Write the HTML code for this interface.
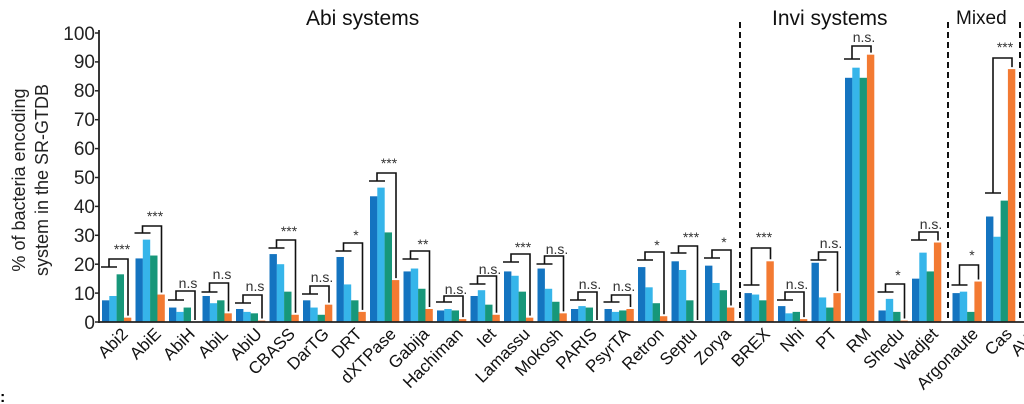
<!DOCTYPE html>
<html><head><meta charset="utf-8"><style>
html,body{margin:0;padding:0;background:#fff}
svg{display:block;font-family:"Liberation Sans",Arial,sans-serif}
</style></head><body>
<svg id="s" width="1024" height="404" viewBox="0 0 1024 404">
<g font-size="21" fill="#111">
<text x="306" y="25">Abi systems</text>
<text x="772" y="25">Invi systems</text>
<text x="956" y="24" font-size="19">Mixed</text>
</g>
<g font-size="18" fill="#222">
<text transform="translate(25,180) rotate(-90)" text-anchor="middle">% of bacteria encoding</text>
<text transform="translate(48,180) rotate(-90)" text-anchor="middle">system in the SR-GTDB</text>
</g>
<g font-size="19" fill="#222" text-anchor="end">
<text x="95" y="329">0</text><text x="95" y="300">10</text><text x="95" y="271">20</text><text x="95" y="242">30</text><text x="95" y="213">40</text><text x="95" y="184">50</text><text x="95" y="155">60</text><text x="95" y="126">70</text><text x="95" y="97">80</text><text x="95" y="68">90</text><text x="95" y="40">100</text>
</g>
<g id="bars"></g>
<g id="br" stroke="#111" stroke-width="1.6" fill="none"></g>
<g font-size="14" fill="#333" text-anchor="middle" id="ann">
<text x="122" y="254">***</text><text x="155" y="221">***</text><text x="188" y="288">n.s</text><text x="222" y="279">n.s</text><text x="255" y="291">n.s</text><text x="289" y="236">***</text><text x="322" y="282">n.s.</text><text x="356" y="240">*</text><text x="389" y="168">***</text><text x="423" y="249">**</text><text x="456" y="294">n.s.</text><text x="490" y="274">n.s.</text><text x="523" y="252">***</text><text x="557" y="254">n.s.</text><text x="590" y="289">n.s.</text><text x="624" y="291">n.s.</text><text x="657" y="250">*</text><text x="691" y="242">***</text><text x="724" y="247">*</text><text x="764" y="242">***</text><text x="797" y="289">n.s.</text><text x="831" y="248">n.s.</text><text x="864" y="42">n.s.</text><text x="898" y="280">*</text><text x="931" y="229">n.s.</text><text x="972" y="260">*</text><text x="1005" y="52">***</text>
</g>
<g font-size="17" fill="#111" text-anchor="end">
<text transform="translate(129,335) rotate(-45)">Abi2</text>
<text transform="translate(162,335) rotate(-45)">AbiE</text>
<text transform="translate(196,335) rotate(-45)">AbiH</text>
<text transform="translate(229,335) rotate(-45)">AbiL</text>
<text transform="translate(263,335) rotate(-45)">AbiU</text>
<text transform="translate(296,335) rotate(-45)">CBASS</text>
<text transform="translate(330,335) rotate(-45)">DarTG</text>
<text transform="translate(363,335) rotate(-45)">DRT</text>
<text transform="translate(397,335) rotate(-45)">dXTPase</text>
<text transform="translate(430,335) rotate(-45)">Gabija</text>
<text transform="translate(464,335) rotate(-45)">Hachiman</text>
<text transform="translate(497,335) rotate(-45)">Iet</text>
<text transform="translate(531,335) rotate(-45)">Lamassu</text>
<text transform="translate(564,335) rotate(-45)">Mokosh</text>
<text transform="translate(598,335) rotate(-45)">PARIS</text>
<text transform="translate(631,335) rotate(-45)">PsyrTA</text>
<text transform="translate(665,335) rotate(-45)">Retron</text>
<text transform="translate(698,335) rotate(-45)">Septu</text>
<text transform="translate(732,335) rotate(-45)">Zorya</text>
<text transform="translate(771,335) rotate(-45)">BREX</text>
<text transform="translate(805,335) rotate(-45)">Nhi</text>
<text transform="translate(838,335) rotate(-45)">PT</text>
<text transform="translate(872,335) rotate(-45)">RM</text>
<text transform="translate(905,335) rotate(-45)">Shedu</text>
<text transform="translate(939,335) rotate(-45)">Wadjet</text>
<text transform="translate(979,335) rotate(-45)">Argonaute</text>
<text transform="translate(1013,335) rotate(-45)">Cas</text>
<text transform="translate(1040,335) rotate(-45)">AVA</text>
</g>
<text x="0" y="402" font-size="16" font-weight="bold">:</text>
<g stroke="#111" stroke-width="2" stroke-dasharray="6,4">
<line x1="740" y1="22" x2="740" y2="322"/>
<line x1="948" y1="22" x2="948" y2="322"/>
<line x1="1020" y1="22" x2="1020" y2="322"/>
</g>
<g stroke="#222" stroke-width="1.8">
<line x1="99" y1="30" x2="99" y2="323"/>
<line x1="98" y1="322" x2="1024" y2="322"/>
</g>
<g id="ticks" stroke="#222" stroke-width="1.5"></g>
</svg>
<script>
var V=[[7.5,9,16.5,1.5],[22,28.5,23,9.5],[5,3.5,5,0],[9,6.5,7.5,3],[4.5,3.5,3,0.5],[23.5,20,10.5,2.5],[7.5,5,2.5,6],[22.5,13,7.5,3.5],[43.5,46.5,31,14.5],[17.5,18.5,11.5,4.5],[4,4.5,4,1],[9,11,6,2.5],[17.5,16,10.5,1.5],[18.5,11.5,7,3],[4.5,5.5,5,0],[4.5,3.5,4,4.5],[19,12,6.5,2],[21,18,7.5,0],[19.5,13.5,11,5],[10,9.5,7.5,21],[5.5,3,3.5,1],[20.5,8.5,5,10],[84.5,88,84.5,92.5],[4,8,3.5,0.5],[15,24,17.5,27.5],[10,10.5,3.5,14],[36.5,29.5,42,87.5]];
var B=[[259,267],[226,233],[291,300],[283,292],[295,303],[240,248],[286,294],[243,251],[173,181],[251,259],[296,302],[276,284],[254,262],[256,264],[292,300],[295,302],[252,260],[246,253],[250,258],[248,285],[292,300],[252,260],[46,59],[284,292],[232,240],[265,285],[58,193]];
var C=["#1474c0","#36b5ea","#17977a","#f37a32"];
var ns="http://www.w3.org/2000/svg",bars=document.getElementById("bars"),br=document.getElementById("br"),tk=document.getElementById("ticks");
function X(i){return 102+i*33.5+(i>=19?6:0)+(i>=25?7:0);}
V.forEach(function(v,i){var x0=X(i);v.forEach(function(h,j){var r=document.createElementNS(ns,"rect");var hp=h*2.89;r.setAttribute("x",x0+j*7.3);r.setAttribute("y",322-hp);r.setAttribute("width",7.4);r.setAttribute("height",hp);r.setAttribute("fill",C[j]);bars.appendChild(r);});
var t=B[i][0],l=B[i][1],ot=322-v[3]*2.89-2;var p=document.createElementNS(ns,"path");
p.setAttribute("d","M"+(x0-1)+" "+l+"H"+(x0+15)+"M"+(x0+7)+" "+l+"V"+t+"H"+(x0+26)+"V"+ot);br.appendChild(p);});
for(var k=0;k<=10;k++){var y=322-k*28.9;var L=document.createElementNS(ns,"line");L.setAttribute("x1",95);L.setAttribute("x2",99);L.setAttribute("y1",y);L.setAttribute("y2",y);tk.appendChild(L);}
</script>
</body></html>
